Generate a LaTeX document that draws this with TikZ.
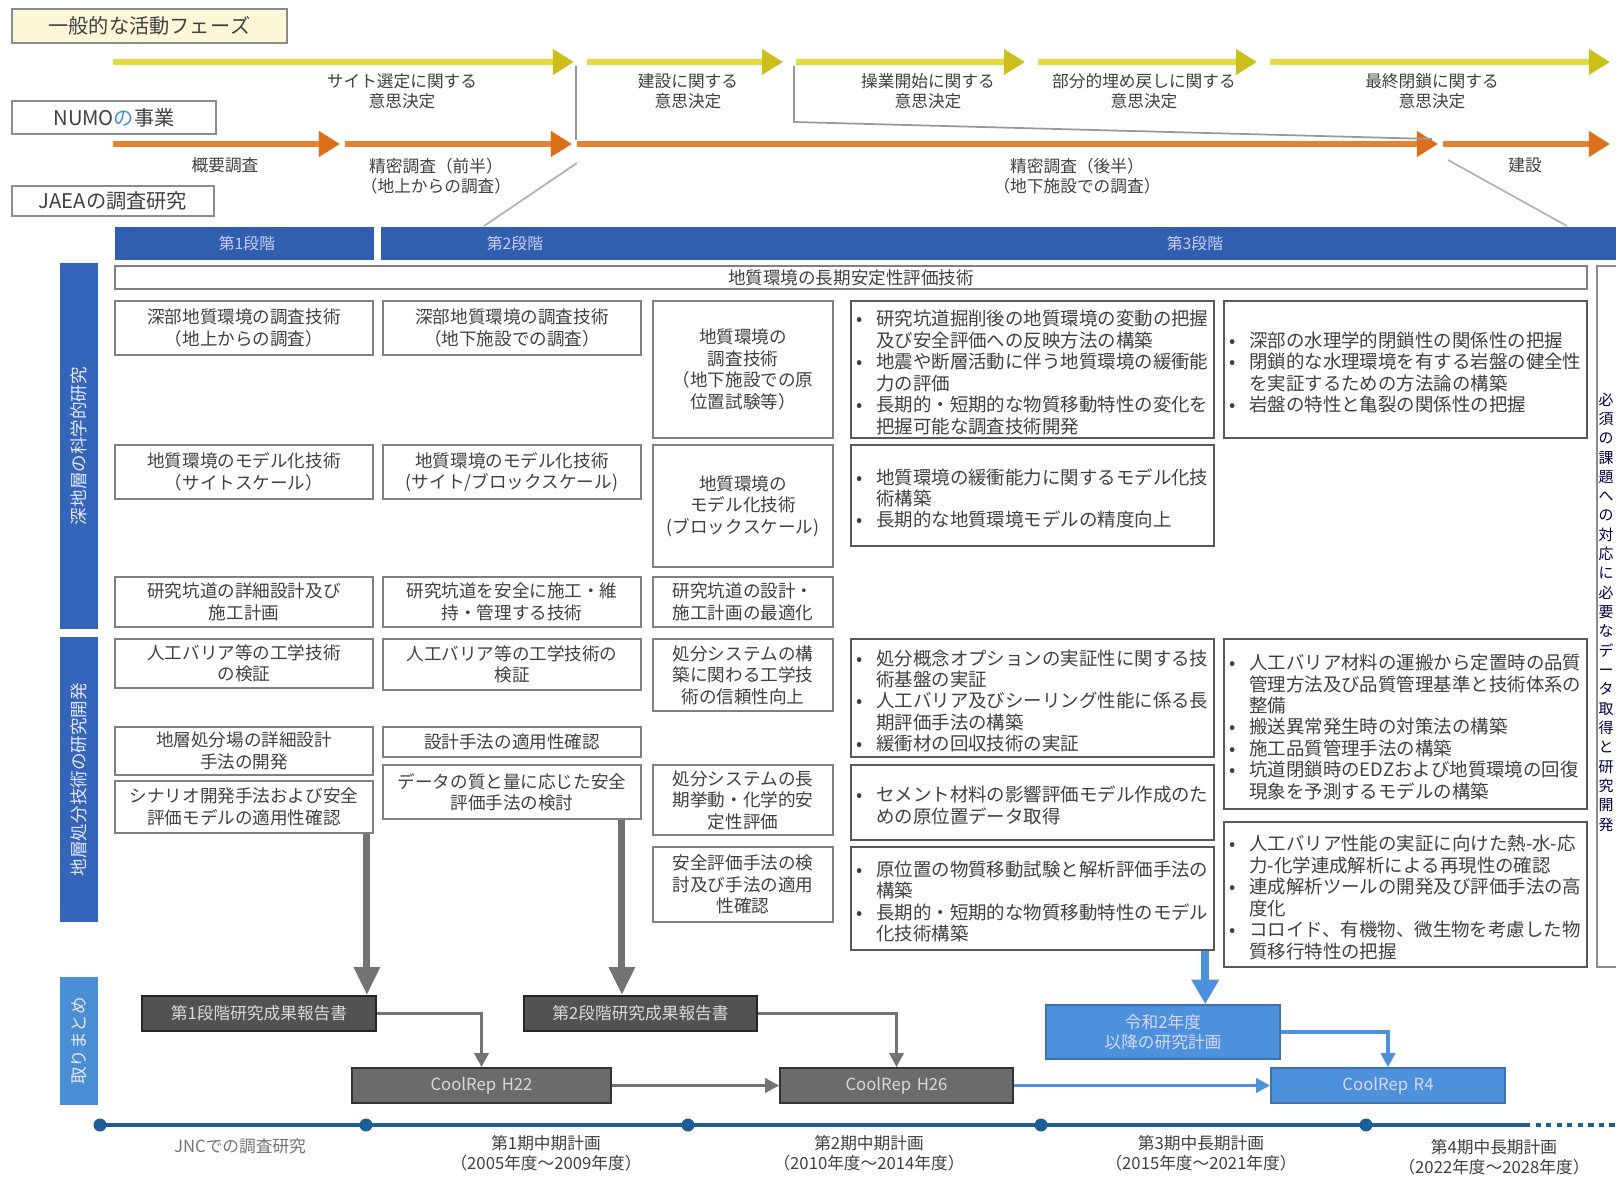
\documentclass[tikz,border=0pt]{standalone}
\usepackage{fontspec}
\setmainfont{Noto Sans CJK JP}
\usetikzlibrary{arrows.meta}
\XeTeXlinebreaklocale "ja"
\XeTeXlinebreakskip=0pt
\definecolor{ylw}{HTML}{E4DA3A}
\definecolor{ylwd}{HTML}{CDBF1A}
\definecolor{org}{HTML}{E8822E}
\definecolor{orgd}{HTML}{DD6F1A}
\definecolor{barb}{HTML}{2F5FAE}
\definecolor{labb}{HTML}{3366BB}
\definecolor{labb2}{HTML}{4A8ED6}
\definecolor{boxb}{HTML}{4D90DC}
\definecolor{tlb}{HTML}{1E5E96}
\definecolor{ylwbg}{HTML}{FAF8D6}
\definecolor{numob}{HTML}{4A8ED6}
\newcommand{\bitem}[1]{\par\hangindent=1.1em\hangafter=1\noindent\hbox to 1.1em{•\hss}#1\par}
\newcommand{\bx}[7][]{%
  \pgfmathsetmacro{\bxw}{(#5-#3)*0.02}%
  \pgfmathsetmacro{\bxh}{(#6-#4)*0.02}%
  \pgfmathsetmacro{\bxt}{(#5-#3)*0.02-0.2}%
  \node[cell,#1,minimum width=\bxw cm,minimum height=\bxh cm,text width=\bxt cm] (#2) at ({(#3+#5)/2},{(#4+#6)/2}) {#7};}
\begin{document}
\begin{tikzpicture}[x=0.02cm,y=-0.02cm,
  cell/.style={draw=black!50, line width=1pt, fill=white, align=center, inner xsep=0.1cm, inner ysep=1pt, text=black!75, font=\fontsize{10}{12.2}\selectfont},
  bcell/.style={cell, align=left, draw=black!65, line width=1.4pt, font=\fontsize{10.5}{12.2}\selectfont},
  lbl/.style={cell, draw=black!45, font=\fontsize{11.5}{13}\selectfont},
  ylab/.style={align=center, text=black!75, font=\fontsize{9.5}{11.5}\selectfont, inner sep=1pt},
  yarr/.style={draw=ylw, line width=3.4pt, -{Triangle[length=12pt,width=14pt,color=ylwd]}},
  oarr/.style={draw=org, line width=3.4pt, -{Triangle[length=12pt,width=14pt,color=orgd]}},
  thinl/.style={draw=black!40, line width=1pt},
  bar/.style={fill=barb, draw=none, text=white!80!blue, font=\fontsize{9}{10}\selectfont},
  vlab/.style={fill=labb, draw=none},
  vtxt/.style={rotate=90, text=white!90!blue, font=\fontsize{10}{11}\selectfont},
  gbox/.style={cell, fill=black!68, draw=black!85, text=black!15, font=\fontsize{9.5}{11}\selectfont},
  gbox2/.style={cell, fill=black!58, draw=black!80, text=black!15, font=\fontsize{9.5}{11}\selectfont},
  bbx/.style={cell, fill=boxb, draw=boxb!80!black, text=white!85!blue, font=\fontsize{9.5}{11.5}\selectfont},
  garr/.style={draw=black!55, line width=4pt, -{Triangle[length=16pt,width=14pt]}},
  gcon/.style={draw=black!55, line width=2.2pt, -{Triangle[length=8pt,width=8pt]}},
  bcon/.style={draw=boxb, line width=2.2pt, -{Triangle[length=8pt,width=8pt]}},
  barr/.style={draw=boxb, line width=4.5pt, -{Triangle[length=14pt,width=15pt]}},
  tline/.style={draw=tlb, line width=2.8pt},
  tlab/.style={align=center, text=black!75, font=\fontsize{9.5}{11.5}\selectfont, inner sep=1pt}
]
\fill[white] (0,0) rectangle (1616,1179);
\useasboundingbox (0,0) rectangle (1616,1179);

% row labels
\bx[lbl,fill=ylwbg]{lbA}{12}{9}{287}{43}{一般的な活動フェーズ}
\bx[lbl]{lbB}{12}{101}{216}{134}{NUMO\textcolor{numob}{の}事業}
\bx[lbl]{lbC}{12}{186}{214}{216}{JAEAの調査研究}

% yellow arrows
\coordinate (y0) at (113,62);
\coordinate (y1) at (574,62);
\coordinate (y2) at (783,62);
\coordinate (y3) at (1025,62);
\coordinate (y4) at (1257,62);
\coordinate (y5) at (1610,62);
\draw[yarr] (y0) -- (y1);
\draw[yarr] ([xshift=0.25cm]y1) -- (y2);
\draw[yarr] ([xshift=0.25cm]y2) -- (y3);
\draw[yarr] ([xshift=0.25cm]y3) -- (y4);
\draw[yarr] ([xshift=0.25cm]y4) -- (y5);
\node[ylab] (d1) at (402,91) {サイト選定に関する\\意思決定};
\node[ylab] (d2) at (688,91) {建設に関する\\意思決定};
\node[ylab] (d3) at (928,91) {操業開始に関する\\意思決定};
\node[ylab] (d4) at (1144,91) {部分的埋め戻しに関する\\意思決定};
\node[ylab] (d5) at (1432,91) {最終閉鎖に関する\\意思決定};

% orange arrows
\coordinate (o0) at (113,144);
\coordinate (o1) at (340,144);
\coordinate (o2) at (572,144);
\coordinate (o3) at (1438,144);
\coordinate (o4) at (1610,144);
\draw[oarr] (o0) -- (o1);
\draw[oarr] ([xshift=0.1cm]o1) -- (o2);
\draw[oarr] ([xshift=0.1cm]o2) -- (o3);
\draw[oarr] ([xshift=0.1cm]o3) -- (o4);
\node[ylab] (p1) at (225,165) {概要調査};
\node[ylab] (p2) at (436,176) {精密調査（前半）\\（地上からの調査）};
\node[ylab] (p3) at (1077,176) {精密調査（後半）\\（地下施設での調査）};
\node[ylab] (p4) at (1525,165) {建設};

% thin gray links
\coordinate (g1a) at (576,66);
\coordinate (g1b) at (576,140);
\draw[thinl] (g1a) -- (g1b);
\coordinate (g2a) at (794,66);
\coordinate (g2b) at (794,122);
\coordinate (g2c) at (1432,139);
\draw[thinl] (g2a) -- (g2b) -- (g2c);
\coordinate (dg1a) at (577,163);
\coordinate (dg1b) at (484,226);
\draw[thinl,draw=black!30] (dg1a) -- (dg1b);
\coordinate (dg2a) at (1448,160);
\coordinate (dg2b) at (1567,226);
\draw[thinl,draw=black!30] (dg2a) -- (dg2b);

% phase bar
\bx[bar]{ph1}{115}{227}{374}{260}{}
\node[bar,minimum width=24.98cm,minimum height=0.66cm,anchor=north west,inner sep=0pt] (ph23) at (381,227) {};
\node[text=white!80!blue, font=\fontsize{9}{10}\selectfont] (ph1t) at (247,243) {第1段階};
\node[text=white!80!blue, font=\fontsize{9}{10}\selectfont] (ph2t) at (515,243) {第2段階};
\node[text=white!80!blue, font=\fontsize{9}{10}\selectfont] (ph3t) at (1195,243) {第3段階};

% left vertical labels
\node[vlab,minimum width=0.76cm,minimum height=7.32cm,inner sep=0pt] (L1) at (79,446) {};
\node[vtxt] (L1t) at (L1) {深地層の科学的研究};
\node[vlab,minimum width=0.76cm,minimum height=5.7cm,inner sep=0pt] (L2) at (79,779.5) {};
\node[vtxt] (L2t) at (L2) {地層処分技術の研究開発};
\node[vlab,fill=labb2,minimum width=0.76cm,minimum height=2.56cm,inner sep=0pt] (L3) at (79,1041) {};
\node[vtxt] (L3t) at (L3) {取りまとめ};

% right column
\node[draw=black!45,line width=1.2pt,minimum width=0.8cm,minimum height=14.02cm,inner sep=0pt] (rc) at (1617,616.5) {};
\node[text width=1em,align=center,inner sep=0pt,text=black!60!blue!70!black,font=\fontsize{8.5}{11}\selectfont] (rct) at (1606,612) {必須の課題への対応に必要なデータ取得と研究開発};

% long-term stability
\bx{lt}{115}{266}{1587}{289}{地質環境の長期安定性評価技術}

% column 1
\bx{c1r1}{115}{301}{373}{355}{深部地質環境の調査技術\\（地上からの調査）}
\bx{c1r2}{115}{445}{373}{499}{地質環境のモデル化技術\\（サイトスケール）}
\bx{c1r3}{115}{577}{373}{627}{研究坑道の詳細設計及び\\施工計画}
\bx{c1r4}{115}{639}{373}{688}{人工バリア等の工学技術\\の検証}
\bx{c1r5}{115}{727}{373}{775}{地層処分場の詳細設計\\手法の開発}
\bx{c1r6}{115}{781}{373}{833}{シナリオ開発手法および安全\\評価モデルの適用性確認}

% column 2
\bx{c2r1}{383}{301}{641}{355}{深部地質環境の調査技術\\（地下施設での調査）}
\bx{c2r2}{383}{445}{641}{499}{地質環境のモデル化技術\\(サイト/ブロックスケール)}
\bx{c2r3}{383}{577}{641}{627}{研究坑道を安全に施工・維\\持・管理する技術}
\bx{c2r4}{383}{639}{641}{690}{人工バリア等の工学技術の\\検証}
\bx{c2r5}{383}{727}{641}{757}{設計手法の適用性確認}
\bx{c2r6}{383}{765}{641}{819}{データの質と量に応じた安全\\評価手法の検討}

% column 3
\bx{c3r1}{653}{301}{833}{438}{地質環境の\\調査技術\\（地下施設での原\\位置試験等）}
\bx{c3r2}{653}{445}{833}{567}{地質環境の\\モデル化技術\\(ブロックスケール)}
\bx{c3r3}{653}{577}{833}{627}{研究坑道の設計・\\施工計画の最適化}
\bx{c3r4}{653}{639}{833}{711}{処分システムの構\\築に関わる工学技\\術の信頼性向上}
\bx{c3r5}{653}{765}{833}{835}{処分システムの長\\期挙動・化学的安\\定性評価}
\bx{c3r6}{653}{847}{833}{922}{安全評価手法の検\\討及び手法の適用\\性確認}

% column 4
\bx[bcell]{c4r1}{851}{301}{1214}{438}{\bitem{研究坑道掘削後の地質環境の変動の把握及び安全評価への反映方法の構築}\bitem{地震や断層活動に伴う地質環境の緩衝能力の評価}\bitem{長期的・短期的な物質移動特性の変化を把握可能な調査技術開発}}
\bx[bcell]{c4r2}{851}{445}{1214}{546}{\bitem{地質環境の緩衝能力に関するモデル化技術構築}\bitem{長期的な地質環境モデルの精度向上}}
\bx[bcell]{c4r3}{851}{639}{1214}{757}{\bitem{処分概念オプションの実証性に関する技術基盤の実証}\bitem{人工バリア及びシーリング性能に係る長期評価手法の構築}\bitem{緩衝材の回収技術の実証}}
\bx[bcell]{c4r4}{851}{765}{1214}{840}{\bitem{セメント材料の影響評価モデル作成のための原位置データ取得}}
\bx[bcell]{c4r5}{851}{847}{1214}{950}{\bitem{原位置の物質移動試験と解析評価手法の構築}\bitem{長期的・短期的な物質移動特性のモデル化技術構築}}

% column 5
\bx[bcell]{c5r1}{1224}{301}{1587}{438}{\bitem{深部の水理学的閉鎖性の関係性の把握}\bitem{閉鎖的な水理環境を有する岩盤の健全性を実証するための方法論の構築}\bitem{岩盤の特性と亀裂の関係性の把握}}
\bx[bcell]{c5r2}{1224}{639}{1587}{809}{\bitem{人工バリア材料の運搬から定置時の品質管理方法及び品質管理基準と技術体系の整備}\bitem{搬送異常発生時の対策法の構築}\bitem{施工品質管理手法の構築}\bitem{坑道閉鎖時のEDZおよび地質環境の回復現象を予測するモデルの構築}}
\bx[bcell]{c5r3}{1224}{822}{1587}{967}{\bitem{人工バリア性能の実証に向けた熱-水-応力-化学連成解析による再現性の確認}\bitem{連成解析ツールの開発及び評価手法の高度化}\bitem{コロイド、有機物、微生物を考慮した物質移行特性の把握}}

% bottom boxes
\bx[gbox]{g1}{142}{996}{376}{1031}{第1段階研究成果報告書}
\bx[gbox]{g2}{524}{996}{757}{1031}{第2段階研究成果報告書}
\bx[gbox2]{h22}{352}{1068}{611}{1103}{CoolRep H22}
\bx[gbox2]{h26}{780}{1068}{1013}{1103}{CoolRep H26}
\bx[bbx]{bl}{1046}{1005}{1280}{1059}{令和2年度\\以降の研究計画}
\bx[bbx]{r4}{1271}{1068}{1505}{1103}{CoolRep R4}

% vertical arrows
\draw[garr] ([xshift=-0.14cm]c1r6.south east) -- ([xshift=-0.14cm]c1r6.south east |- g1.north);
\draw[garr] ([xshift=-0.4cm]c2r6.south east) -- ([xshift=-0.4cm]c2r6.south east |- g2.north);
\draw[barr] ([xshift=-0.2cm]c4r5.south east) -- ([xshift=-0.2cm]c4r5.south east |- bl.north);

% bottom connectors
\draw[gcon] (g1.east) -| (h22.north);
\draw[gcon] (g2.east) -| (h26.north);
\draw[gcon] (h22.east) -- (h26.west);
\draw[bcon] (h26.east) -- (r4.west);
\draw[bcon] (bl.east) -| (r4.north);

% timeline
\coordinate (t0) at (100,1125);
\coordinate (t1) at (366,1125);
\coordinate (t2) at (688,1125);
\coordinate (t3) at (1041,1125);
\coordinate (t4) at (1366,1125);
\coordinate (t5) at (1525,1125);
\coordinate (t6) at (1616,1125);
\draw[tline] (t0) -- (t5);
\draw[tline,dashed] (t5) -- (t6);
\foreach \p in {t0,t1,t2,t3,t4} \fill[tlb] (\p) circle (0.13cm);
\node[tlab,text=black!55] (tl1) at (240,1146) {JNCでの調査研究};
\node[tlab] (tl2) at (546,1153) {第1期中期計画\\（2005年度～2009年度）};
\node[tlab] (tl3) at (869,1153) {第2期中期計画\\（2010年度～2014年度）};
\node[tlab] (tl4) at (1201,1153) {第3期中長期計画\\（2015年度～2021年度）};
\node[tlab] (tl5) at (1494,1157) {第4期中長期計画\\（2022年度～2028年度）};
\end{tikzpicture}
\end{document}
